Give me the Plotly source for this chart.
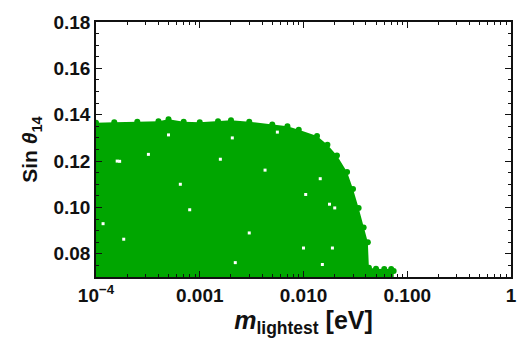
import plotly.graph_objects as go

# Upper envelope of the allowed region
m_edge = [9.0e-5, 1.0e-4, 1.5e-4, 2.5e-4, 4.0e-4, 5.0e-4, 7.0e-4, 1.0e-3, 1.5e-3, 2.0e-3,
          3.0e-3, 5.0e-3, 7.0e-3, 9.0e-3, 1.35e-2, 1.7e-2, 2.1e-2, 2.63e-2, 3.0e-2,
          3.4e-2, 3.8e-2, 4.17e-2, 4.27e-2, 5.0e-2, 6.0e-2, 7.0e-2, 7.4e-2]
sin_edge = [0.1365, 0.1365, 0.1368, 0.1370, 0.1372, 0.1380, 0.1370, 0.1368, 0.1372, 0.1376,
            0.1370, 0.1358, 0.1350, 0.1335, 0.1308, 0.1270, 0.1224, 0.1153, 0.1080,
            0.0998, 0.0913, 0.0850, 0.0740, 0.0736, 0.0735, 0.0734, 0.0726]
y_floor = 0.065

# Small empty gaps inside the scanned region
m_gap = [2.06e-3, 1.58e-3, 1.69e-4, 4.26e-3, 3.2e-4, 5.0e-4, 5.6e-3, 1.45e-2, 1.05e-2,
         1.78e-2, 2.0e-2, 1.9e-2, 1.0e-2, 1.52e-2, 1.17e-4, 1.6e-4, 1.85e-4, 2.2e-3, 8.0e-4,
         3.0e-3, 6.5e-4]
sin_gap = [0.1300, 0.1208, 0.1199, 0.1161, 0.1229, 0.1313, 0.1325, 0.1124, 0.1056,
           0.1014, 0.0998, 0.0825, 0.0825, 0.0754, 0.0930, 0.1200, 0.0863, 0.0762, 0.0990,
           0.0890, 0.1100]

x_ticks = [1e-4, 1e-3, 1e-2, 1e-1, 1]
x_ticktext = ["10<sup>\u22124</sup>", "0.001", "0.010", "0.100", "1"]
y_ticks = [0.08, 0.10, 0.12, 0.14, 0.16, 0.18]
y_ticktext = ["0.08", "0.10", "0.12", "0.14", "0.16", "0.18"]

green = "rgb(0,166,0)"

poly_x = m_edge + [m_edge[-1], m_edge[0]]
poly_y = sin_edge + [y_floor, y_floor]

fig = go.Figure()
fig.add_trace(go.Scatter(x=poly_x, y=poly_y, fill="toself", mode="lines",
                         line=dict(color=green, width=0), fillcolor=green,
                         hoverinfo="skip", showlegend=False))
fig.add_trace(go.Scatter(x=m_edge, y=sin_edge, mode="markers",
                         marker=dict(color=green, size=6), showlegend=False))
fig.add_trace(go.Scatter(x=m_gap, y=sin_gap, mode="markers",
                         marker=dict(color="white", size=3, symbol="square"),
                         showlegend=False))

minor_x = [k * 10 ** e for e in range(-4, 0) for k in range(2, 10)]

font = "Liberation Sans, Arial, sans-serif"
ink = "#111"
fig.update_layout(
    width=529, height=343,
    margin=dict(l=96, r=13, t=16, b=66),
    paper_bgcolor="white", plot_bgcolor="white",
    font=dict(family=font, size=19, color=ink),
)
fig.update_xaxes(
    type="log", range=[-4, 0],
    tickmode="array", tickvals=x_ticks, ticktext=["<b>%s</b>" % t for t in x_ticktext],
    ticks="inside", ticklen=6, tickwidth=1.2, tickcolor=ink,
    minor=dict(tickmode="array", tickvals=minor_x, ticks="inside", ticklen=3, tickcolor=ink, showgrid=False),
    showline=True, linecolor=ink, linewidth=1.5, mirror="allticks",
    showgrid=False, zeroline=False,
    title=dict(text="<b><i>m</i><sub>lightest</sub> [eV]</b>", font=dict(size=25), standoff=4),
)
fig.update_yaxes(
    range=[0.07, 0.18],
    tickmode="array", tickvals=y_ticks, ticktext=["<b>%s</b>" % t for t in y_ticktext],
    ticks="inside", ticklen=6, tickwidth=1.2, tickcolor=ink,
    minor=dict(dtick=0.005, tick0=0.07, ticks="inside", ticklen=3, tickcolor=ink, showgrid=False),
    showline=True, linecolor=ink, linewidth=1.5, mirror="allticks",
    showgrid=False, zeroline=False,
    title=dict(text="<b>Sin <i>θ</i><sub>14</sub></b>", font=dict(size=21), standoff=10),
)

fig.write_html("out.html")
